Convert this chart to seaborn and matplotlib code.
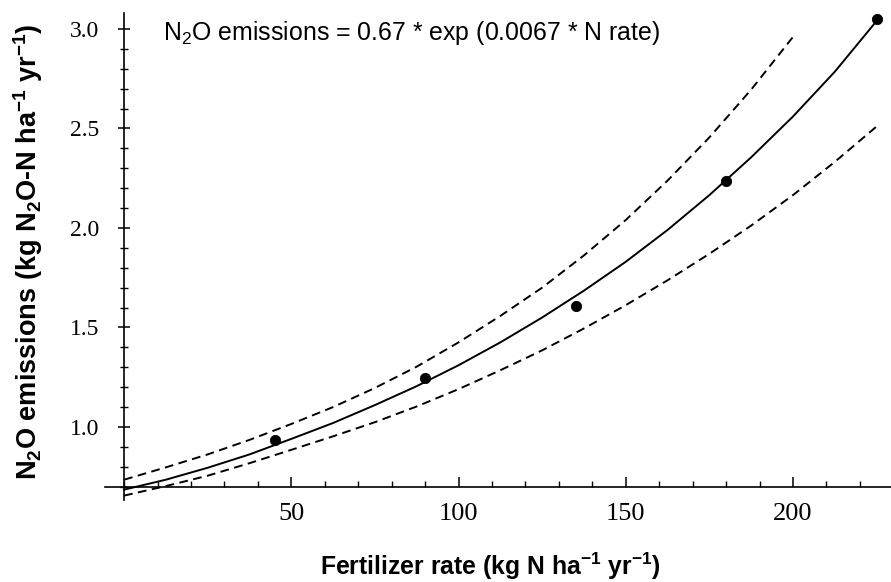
import pandas as pd
import matplotlib
matplotlib.use('Agg')
import matplotlib.pyplot as plt
from matplotlib.ticker import MultipleLocator, FixedLocator
import seaborn as sns

# Valores
n_rate = [45, 90, 135, 180, 225]
n2o_obs = [0.935, 1.245, 1.607, 2.238, 3.049]

curve_x = [0, 12.5, 25, 37.5, 50, 62.5, 75, 87.5, 100, 112.5,
           125, 137.5, 150, 162.5, 175, 187.5, 200, 212.5, 225]
fit_y = [0.685, 0.735, 0.795, 0.862, 0.94, 1.02, 1.11, 1.205, 1.31, 1.425,
         1.55, 1.685, 1.83, 1.99, 2.165, 2.355, 2.56, 2.785, 3.04]
lower_y = [0.655, 0.703, 0.755, 0.818, 0.885, 0.953, 1.024, 1.103, 1.19, 1.285,
           1.385, 1.495, 1.612, 1.737, 1.87, 2.012, 2.165, 2.332, 2.51]

upper_x = [0, 12.5, 25, 37.5, 50, 62.5, 75, 87.5, 100, 112.5,
           125, 137.5, 150, 162.5, 175, 187.5, 200]
upper_y = [0.735, 0.797, 0.862, 0.935, 1.015, 1.10, 1.196, 1.303, 1.425, 1.558,
           1.70, 1.862, 2.04, 2.238, 2.455, 2.695, 2.96]

x_ticks = [50, 100, 150, 200]
y_ticks = [1.0, 1.5, 2.0, 2.5, 3.0]

sns.set_style('white')
plt.rcParams['font.family'] = ['Liberation Sans', 'DejaVu Sans']
plt.rcParams['mathtext.default'] = 'regular'
plt.rcParams['text.color'] = 'black'

fig = plt.figure(figsize=(8.91, 5.82), dpi=100)
ax = fig.add_axes([105 / 891, 82 / 582, 786 / 891, 487 / 582])

dash = (0, (4.5, 2.8))
sns.lineplot(x=curve_x, y=fit_y, color='black', lw=1.4, ax=ax)
sns.lineplot(x=upper_x, y=upper_y, color='black', lw=1.4, linestyle=dash, ax=ax)
sns.lineplot(x=curve_x, y=lower_y, color='black', lw=1.4, linestyle=dash, ax=ax)
sns.scatterplot(x=n_rate, y=n2o_obs, color='black', s=55, edgecolor='black', zorder=5, ax=ax)

ax.set_xlim(-5.7, 229.3)
ax.set_ylim(0.633, 3.08)

# Ejes cruzados al estilo Mathematica
for side in ['top', 'right']:
    ax.spines[side].set_visible(False)
ax.spines['left'].set_position(('data', 0))
ax.spines['bottom'].set_position(('data', 0.7))
for side in ['left', 'bottom']:
    ax.spines[side].set_color('black')
    ax.spines[side].set_linewidth(1.2)

ax.xaxis.set_major_locator(FixedLocator(x_ticks))
ax.xaxis.set_minor_locator(MultipleLocator(10))
ax.yaxis.set_major_locator(FixedLocator(y_ticks))
ax.yaxis.set_minor_locator(MultipleLocator(0.1))
ax.set_xticklabels([str(v) for v in x_ticks], family='Liberation Serif', fontsize=19)
ax.set_yticklabels([f'{v:.1f}' for v in y_ticks], family='Liberation Serif', fontsize=17)
ax.tick_params(which='both', bottom=True, left=True)
ax.tick_params(axis='x', which='major', direction='in', length=7, width=1.1, pad=12, colors='black')
ax.tick_params(axis='x', which='minor', direction='in', length=4, width=1.0, colors='black')
ax.tick_params(axis='y', which='major', direction='inout', length=8, width=1.1, pad=14, colors='black')
ax.tick_params(axis='y', which='minor', direction='inout', length=6, width=1.0, colors='black')

ax.text(11.7, 2.98, 'N$_2$O emissions = 0.67 * exp (0.0067 * N rate)',
        fontsize=17.9, ha='left', va='center', color='black')

fig.text(490 / 891, 1 - 566 / 582, 'Fertilizer rate (kg N ha$^{-1}$ yr$^{-1}$)',
         fontsize=17.8, fontweight='bold', ha='center', va='center', color='black')
fig.text(28 / 891, 1 - 252 / 582, 'N$_2$O emissions (kg N$_2$O-N ha$^{-1}$ yr$^{-1}$)',
         fontsize=19.5, fontweight='bold', ha='center', va='center', rotation=90,
         color='black')

fig.savefig('out.png', dpi=100)
plt.close(fig)
